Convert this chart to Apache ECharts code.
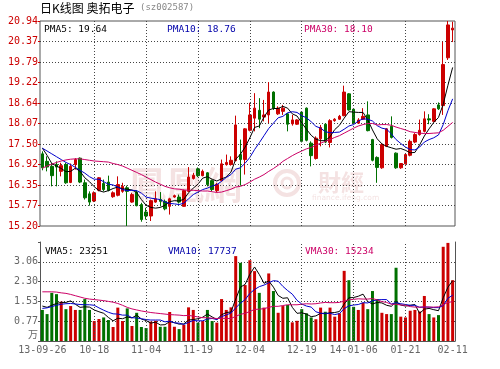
<!DOCTYPE html>
<html><head><meta charset="utf-8">
<script src="https://cdn.jsdelivr.net/npm/echarts@6.0.0/dist/echarts.min.js"></script>
<style>html,body{margin:0;padding:0;background:#fff}#c{width:500px;height:369px}</style>
</head><body><div id="c"></div>
<script>
const dates = ['13-09-26','13-09-27','13-09-30','13-10-08','13-10-09','13-10-10','13-10-11','13-10-14','13-10-15','13-10-16','13-10-17','13-10-18','13-10-21','13-10-22','13-10-23','13-10-24','13-10-25','13-10-28','13-10-29','13-10-30','13-10-31','13-11-01','13-11-04','13-11-05','13-11-06','13-11-07','13-11-08','13-11-11','13-11-12','13-11-13','13-11-14','13-11-15','13-11-18','13-11-19','13-11-20','13-11-21','13-11-22','13-11-25','13-11-26','13-11-27','13-11-28','13-11-29','13-12-02','13-12-03','13-12-04','13-12-05','13-12-06','13-12-09','13-12-10','13-12-11','13-12-12','13-12-13','13-12-16','13-12-17','13-12-18','13-12-19','13-12-20','13-12-23','13-12-24','13-12-25','13-12-26','13-12-27','13-12-30','13-12-31','14-01-02','14-01-03','14-01-06','14-01-07','14-01-08','14-01-09','14-01-10','14-01-13','14-01-14','14-01-15','14-01-16','14-01-17','14-01-20','14-01-21','14-01-22','14-01-23','14-01-24','14-01-27','14-01-28','14-01-29','14-01-30','14-02-07','14-02-10','14-02-11'];

const openP = [17.22,17.01,16.87,16.92,16.73,16.92,16.42,16.92,17.10,16.41,
16.10,15.90,16.20,16.39,16.43,16.02,16.06,16.17,16.27,15.87,
16.15,15.80,15.59,15.48,15.87,15.94,15.89,15.75,16.01,16.01,
15.75,16.17,16.53,16.80,16.61,16.69,16.47,16.19,16.47,16.92,
16.92,17.03,17.20,17.06,17.88,18.22,18.44,18.25,18.31,18.95,
18.34,18.41,18.34,18.06,18.05,18.39,18.50,17.52,17.09,17.64,
18.05,17.54,18.15,18.19,18.29,18.90,18.47,18.08,18.19,18.31,
17.62,17.12,16.83,17.43,17.99,17.24,16.83,16.94,17.18,17.55,
17.76,17.85,18.20,18.13,18.59,18.57,19.91,20.69];

const closeP = [16.83,16.85,16.61,16.85,16.89,16.41,16.87,17.06,16.43,15.99,
15.87,16.13,16.55,16.22,16.20,16.13,16.36,16.31,16.17,16.08,
15.77,15.38,15.48,15.91,15.96,15.89,15.68,15.96,16.05,15.87,
16.19,16.57,16.62,16.61,16.73,16.36,16.22,16.36,16.94,16.98,
17.04,18.03,17.06,17.92,18.31,18.50,18.19,18.31,18.95,18.50,
18.50,18.50,18.05,18.17,18.17,17.57,17.60,17.17,17.66,17.96,
17.55,18.15,18.19,18.27,18.95,18.45,18.08,18.17,18.27,17.87,
17.04,16.84,17.48,17.92,17.68,16.83,16.95,17.20,17.57,17.76,
17.88,18.20,18.17,18.48,18.48,19.72,20.83,20.74];

const lowP = [16.76,16.73,16.31,16.31,16.59,16.38,16.40,16.78,16.40,15.94,
15.77,15.87,16.17,16.17,16.17,15.99,16.03,16.13,15.20,15.85,
15.75,15.32,15.38,15.34,15.85,15.75,15.64,15.52,15.99,15.83,
15.74,16.14,16.50,16.57,16.59,16.31,16.17,16.14,16.45,16.89,
16.89,17.01,16.33,16.64,17.85,17.85,17.94,18.13,18.08,18.45,
18.31,18.31,17.85,18.01,18.03,17.54,17.57,16.87,17.06,17.43,
17.52,17.40,18.12,18.17,18.27,18.43,18.05,18.06,18.17,17.85,
17.01,16.41,16.80,17.41,17.65,16.80,16.80,16.92,17.15,17.52,
17.73,17.82,18.05,18.10,18.45,18.31,19.85,20.35];

const highP = [17.29,17.15,16.96,17.01,16.97,16.97,16.95,17.10,17.12,16.50,
16.17,16.17,16.57,16.50,16.61,16.17,16.59,16.41,16.33,16.13,
16.20,15.85,15.71,15.94,16.17,16.15,15.94,15.99,16.08,16.08,
16.22,16.85,16.69,16.84,16.78,16.71,16.50,16.41,17.06,17.20,
17.15,18.29,17.62,17.94,18.65,18.92,18.78,18.73,19.23,18.97,
18.55,18.59,18.36,18.31,18.19,18.41,18.52,17.57,17.71,18.03,
18.08,18.19,18.22,18.31,19.13,18.92,18.50,18.22,18.50,18.69,
17.64,17.15,17.52,17.94,18.27,17.26,16.96,17.22,17.62,17.80,
18.18,18.41,18.33,18.50,18.66,20.36,20.94,20.92];

const pma5 = [17.38,17.18,16.95,16.88,16.81,16.72,16.73,16.82,16.73,16.55,
16.44,16.30,16.19,16.15,16.19,16.25,16.29,16.24,16.23,16.21,
16.14,15.94,15.78,15.72,15.70,15.72,15.78,15.88,15.91,15.90,
15.95,16.13,16.26,16.37,16.54,16.58,16.51,16.46,16.52,16.57,
16.71,17.07,17.21,17.41,17.67,17.96,18.00,18.25,18.45,18.49,
18.49,18.55,18.50,18.34,18.28,18.09,17.91,17.74,17.63,17.59,
17.59,17.70,17.90,18.02,18.22,18.40,18.39,18.38,18.38,18.17,
17.89,17.64,17.50,17.43,17.39,17.35,17.37,17.32,17.25,17.26,
17.47,17.72,17.92,18.10,18.24,18.61,19.14,19.64];

const pma10 = [17.38,17.30,17.22,17.14,17.06,16.98,16.92,16.84,16.76,16.68,
16.58,16.51,16.51,16.44,16.37,16.35,16.29,16.22,16.19,16.20,
16.19,16.12,16.01,15.98,15.96,15.94,15.87,15.83,15.82,15.80,
15.84,15.96,16.08,16.15,16.22,16.26,16.32,16.36,16.45,16.56,
16.64,16.79,16.83,16.96,17.12,17.34,17.53,17.73,17.93,18.08,
18.23,18.27,18.37,18.40,18.38,18.29,18.23,18.12,17.99,17.94,
17.84,17.81,17.82,17.83,17.91,18.00,18.04,18.14,18.20,18.19,
18.14,18.01,17.94,17.91,17.78,17.62,17.51,17.41,17.34,17.33,
17.41,17.55,17.62,17.67,17.75,18.04,18.43,18.76];

const pma30 = [16.82,16.88,16.93,16.98,17.02,17.05,17.07,17.08,17.08,17.06,
17.04,17.02,17.01,17.00,16.99,16.95,16.92,16.88,16.82,16.76,
16.70,16.64,16.57,16.50,16.43,16.37,16.31,16.27,16.24,16.23,
16.21,16.20,16.20,16.19,16.18,16.18,16.16,16.14,16.15,16.19,
16.23,16.29,16.31,16.36,16.43,16.51,16.57,16.64,16.73,16.81,
16.90,17.01,17.09,17.17,17.24,17.30,17.36,17.40,17.46,17.52,
17.57,17.62,17.68,17.73,17.80,17.87,17.94,18.00,18.04,18.07,
18.07,18.03,18.04,18.04,18.02,17.97,17.93,17.89,17.84,17.82,
17.80,17.79,17.79,17.80,17.81,17.88,17.99,18.10];

const volume = [1.20,1.04,1.86,1.81,1.52,1.23,1.35,1.20,1.20,1.62,
1.20,0.77,0.85,0.91,0.81,0.54,1.29,0.77,1.26,0.58,
1.09,0.54,0.50,0.75,0.78,0.55,0.55,1.12,0.55,0.46,
0.62,1.30,1.20,0.71,0.77,1.20,0.77,0.71,1.62,1.20,
1.30,3.28,3.02,2.16,3.12,2.70,1.86,1.29,2.61,1.93,
1.09,1.35,1.39,0.72,0.78,1.23,1.07,0.91,0.84,1.29,
1.13,1.29,0.94,1.07,2.71,2.35,1.32,1.20,1.48,1.23,
1.93,1.62,1.09,1.04,1.04,2.83,0.94,0.91,1.17,1.20,
1.14,1.74,1.04,0.91,1.00,3.64,3.79,2.35];

const vma5 = [1.35,1.30,1.38,1.45,1.49,1.49,1.55,1.42,1.30,1.32,
1.31,1.20,1.13,1.07,0.91,0.78,0.88,0.86,0.93,0.89,
1.00,0.85,0.79,0.69,0.73,0.62,0.63,0.75,0.71,0.65,
0.66,0.81,0.83,0.86,0.92,1.04,0.93,0.83,1.01,1.10,
1.12,1.62,2.08,2.19,2.58,2.86,2.57,2.23,2.32,2.08,
1.76,1.65,1.67,1.30,1.07,1.09,1.04,0.94,0.97,1.07,
1.05,1.09,1.10,1.14,1.43,1.67,1.68,1.73,1.81,1.52,
1.43,1.49,1.47,1.38,1.34,1.52,1.39,1.35,1.38,1.41,
1.07,1.23,1.26,1.21,1.17,1.67,2.08,2.33];

const vma10 = [1.26,1.28,1.33,1.38,1.42,1.44,1.45,1.43,1.41,1.40,
1.40,1.38,1.28,1.19,1.11,1.05,1.04,1.00,1.00,0.90,
0.89,0.86,0.83,0.81,0.81,0.81,0.74,0.77,0.70,0.69,
0.64,0.72,0.79,0.78,0.78,0.85,0.87,0.83,0.94,1.01,
1.08,1.28,1.46,1.60,1.84,1.99,2.10,2.16,2.25,2.33,
2.31,2.11,1.95,1.81,1.57,1.43,1.35,1.31,1.13,1.07,
1.07,1.07,1.02,1.06,1.25,1.36,1.39,1.41,1.48,1.47,
1.55,1.59,1.60,1.60,1.43,1.48,1.44,1.41,1.38,1.38,
1.30,1.31,1.31,1.29,1.29,1.37,1.65,1.77];

const vma30 = [1.90,1.90,1.90,1.89,1.86,1.84,1.80,1.75,1.70,1.65,
1.62,1.60,1.58,1.56,1.53,1.50,1.45,1.38,1.30,1.24,
1.20,1.16,1.13,1.10,1.08,1.06,1.04,1.02,1.01,1.00,
0.98,0.99,0.96,0.93,0.90,0.90,0.88,0.87,0.88,0.87,
0.87,0.95,1.03,1.07,1.14,1.22,1.23,1.25,1.30,1.34,
1.34,1.37,1.40,1.40,1.40,1.42,1.44,1.43,1.44,1.47,
1.49,1.48,1.48,1.49,1.55,1.59,1.61,1.63,1.62,1.62,
1.64,1.59,1.52,1.49,1.42,1.42,1.39,1.38,1.33,1.31,
1.31,1.32,1.31,1.31,1.32,1.40,1.49,1.52];

const priceTicks = ['15.20','15.77','16.35','16.92','17.50','18.07','18.64','19.22','19.79','20.37','20.94'];
const volTicks = ['', '0.77', '1.53', '2.30', '3.06', ''];
const xTickIdx = [0, 11, 22, 33, 44, 55, 66, 77, 87];
const xTickLabels = ['13-09-26','10-18','11-04','11-19','12-04','12-19','14-01-06','01-21','02-11'];
const gridIdx = [11, 22, 33, 44, 55, 66, 77];

const UP = '#cc0000', DOWN = '#007000';
const MONO = '"DejaVu Sans Mono", monospace';
const dotted = { color: '#444', type: [1, 2], width: 1 };

const chart = echarts.init(document.getElementById('c'), null, { renderer: 'canvas' });

const kData = dates.map((d, i) => [openP[i], closeP[i], lowP[i], highP[i]]);
const vData = volume.map((v, i) => ({ value: v, itemStyle: { color: closeP[i] >= openP[i] ? UP : DOWN } }));
const vLines = gridIdx.map(i => ({ xAxis: dates[i] }));

function ml() {
  return { silent: true, symbol: ['none', 'none'], label: { show: false }, lineStyle: dotted, data: vLines, animation: false };
}
function lineS(data, color, xi, yi) {
  return { type: 'line', data, xAxisIndex: xi, yAxisIndex: yi, symbol: 'none', showSymbol: false,
    lineStyle: { color, width: 1 }, itemStyle: { color }, z: 4, animation: false, silent: true };
}

const txt = (x, y, text, fill, font, align) => ({
  type: 'text', x, y, z: 10,
  style: { text, fill, font, textAlign: align || 'left', textVerticalAlign: 'middle' }
});
const wm = 'rgba(215,150,150,0.28)';

chart.setOption({
  animation: false,
  backgroundColor: '#fff',
  grid: [
    { left: 40, right: 45, top: 21, height: 205, show: true, borderColor: '#555', borderWidth: 1, backgroundColor: 'transparent' },
    { left: 40, right: 45, top: 242, height: 99 }
  ],
  xAxis: [
    { type: 'category', gridIndex: 0, data: dates, boundaryGap: true,
      axisLine: { show: false }, axisTick: { show: false }, axisLabel: { show: false }, splitLine: { show: false } },
    { type: 'category', gridIndex: 1, data: dates, boundaryGap: true,
      axisLine: { show: true, lineStyle: { color: '#555' } }, axisTick: { show: false }, splitLine: { show: false },
      axisLabel: { show: true, color: '#666', fontFamily: MONO, fontSize: 10, margin: 4,
        interval: (idx) => xTickIdx.indexOf(idx) >= 0,
        formatter: (val, idx) => { const k = xTickIdx.indexOf(idx); return k >= 0 ? xTickLabels[k] : ''; } } }
  ],
  yAxis: [
    { type: 'value', gridIndex: 0, min: 15.2, max: 20.94, show: false, scale: true },
    { type: 'value', gridIndex: 0, min: 0, max: 10, interval: 1, position: 'left',
      axisLine: { show: false },
      axisTick: { show: true, length: 2, lineStyle: { color: UP } },
      axisLabel: { color: UP, fontFamily: MONO, fontSize: 10, margin: 2, formatter: (v) => priceTicks[Math.round(v)] },
      splitLine: { show: true, showMinLine: false, showMaxLine: false, lineStyle: dotted } },
    { type: 'value', gridIndex: 1, min: 0, max: 3.825, interval: 0.765, position: 'left',
      axisLine: { show: true, lineStyle: { color: '#555' } },
      axisTick: { show: true, length: 2, lineStyle: { color: '#555' } },
      axisLabel: { color: '#666', fontFamily: MONO, fontSize: 10, margin: 2, formatter: (v) => volTicks[Math.round(v / 0.765)] || '' },
      splitLine: { show: true, showMinLine: false, showMaxLine: false, lineStyle: dotted } },
    { type: 'value', gridIndex: 1, min: 0, max: 3.825, position: 'right',
      axisLine: { show: true, lineStyle: { color: '#555' } }, axisTick: { show: false }, axisLabel: { show: false }, splitLine: { show: false } }
  ],
  series: [
    { type: 'candlestick', name: 'K', xAxisIndex: 0, yAxisIndex: 0, data: kData, barWidth: 3, z: 3,
      itemStyle: { color: UP, color0: DOWN, borderColor: UP, borderColor0: DOWN, borderWidth: 1 },
      markLine: ml(), silent: true },
    lineS(pma5, '#000000', 0, 0),
    lineS(pma10, '#0000cc', 0, 0),
    lineS(pma30, '#cc0066', 0, 0),
    { type: 'bar', name: 'VOL', xAxisIndex: 1, yAxisIndex: 2, data: vData, barWidth: 3, z: 3, silent: true, markLine: ml() },
    lineS(vma5, '#000000', 1, 2),
    lineS(vma10, '#0000cc', 1, 2),
    lineS(vma30, '#cc0066', 1, 2)
  ],
  graphic: [
    { type: 'text', x: 128, y: 185, z: 0, style: { text: '鳳凰網', fill: wm, font: 'bold 38px "Noto Sans CJK TC"', textVerticalAlign: 'middle' } },
    { type: 'circle', z: 0, shape: { cx: 287, cy: 183, r: 12 }, style: { fill: 'none', stroke: wm, lineWidth: 4 } },
    { type: 'circle', z: 0, shape: { cx: 287, cy: 183, r: 5 }, style: { fill: 'none', stroke: wm, lineWidth: 3 } },
    { type: 'text', x: 318, y: 182, z: 0, style: { text: '財經', fill: wm, font: 'bold 23px "Noto Sans CJK TC"', textVerticalAlign: 'middle' } },
    { type: 'text', x: 312, y: 198, z: 0, style: { text: 'finance.ifeng.com', fill: wm, font: '7.5px "DejaVu Sans"', textVerticalAlign: 'middle' } },
    txt(40, 8, '日K线图 奥拓电子', '#000', '12px "Noto Sans CJK SC"'),
    txt(140, 8, '(sz002587)', '#888', '9px ' + MONO),
    txt(44, 30, 'PMA5: 19.64', '#000', '9.5px ' + MONO),
    txt(167, 30, 'PMA10: 18.76', '#0000aa', '9.5px ' + MONO),
    txt(304, 30, 'PMA30: 18.10', '#cc0066', '9.5px ' + MONO),
    txt(45, 252, 'VMA5: 23251', '#000', '9.5px ' + MONO),
    txt(168, 252, 'VMA10: 17737', '#0000aa', '9.5px ' + MONO),
    txt(305, 252, 'VMA30: 15234', '#cc0066', '9.5px ' + MONO),
    txt(38, 334, '万', '#666', '10px "Noto Sans CJK SC"', 'right')
  ]
});
</script>
</body></html>
